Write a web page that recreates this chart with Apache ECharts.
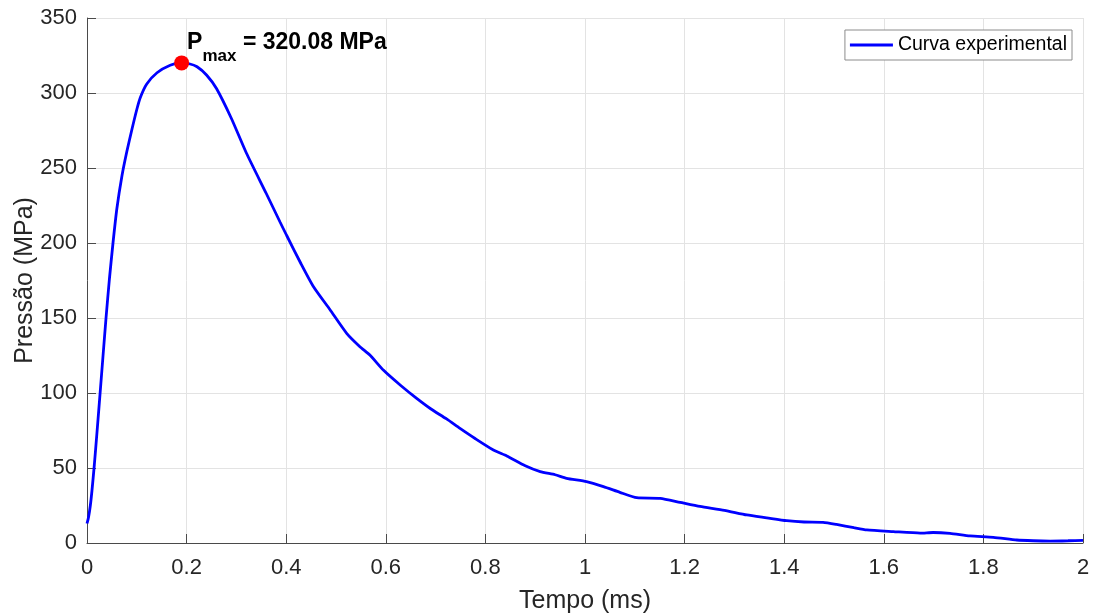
<!DOCTYPE html>
<html>
<head>
<meta charset="utf-8">
<script src="https://cdn.jsdelivr.net/npm/echarts@6/dist/echarts.min.js"></script>
<style>
html,body{margin:0;padding:0;background:#fff;}
#chart{width:1096px;height:613px;}
</style>
</head>
<body>
<div id="chart"></div>
<script>
// ---- data ----
const tempo = [0, 0.003, 0.0067, 0.010, 0.0147, 0.020, 0.0268, 0.032, 0.0382, 0.045, 0.0522, 0.060, 0.0703, 0.080, 0.0904, 0.100, 0.1071, 0.120, 0.1406, 0.167, 0.189, 0.205, 0.221, 0.24, 0.26, 0.29, 0.32, 0.36, 0.3876, 0.401, 0.43, 0.4545, 0.488, 0.5214, 0.548, 0.568, 0.595, 0.63, 0.662, 0.69, 0.722, 0.749, 0.78, 0.816, 0.843, 0.88, 0.91, 0.94, 0.963, 1.003, 1.037, 1.07, 1.104, 1.151, 1.191, 1.231, 1.28, 1.325, 1.365, 1.405, 1.44, 1.478, 1.505, 1.54, 1.566, 1.619, 1.673, 1.699, 1.733, 1.773, 1.82, 1.867, 1.90, 1.934, 1.97, 2.0];
const pressao = [13, 17, 25, 35, 52, 73.5, 102, 124, 150, 176, 200, 223, 245, 261, 276, 289, 297, 306, 313.5, 318.5, 320.08, 319.5, 317.5, 312, 303, 283, 260, 233, 214, 205, 186, 171, 155.5, 139.8, 130.9, 125.3, 115.3, 105, 96.4, 89.5, 82.7, 76.4, 69.5, 62, 58, 51.5, 47.6, 45.5, 43.1, 40.9, 37.6, 33.8, 30.2, 29.8, 27.1, 24.4, 21.8, 18.7, 16.8, 14.9, 14.0, 13.8, 12.4, 10.2, 8.7, 7.6, 6.6, 7.0, 6.4, 4.7, 3.8, 2.0, 1.5, 1.3, 1.5, 1.8];
const picoTempo = 0.19;
const picoPressao = 320.08;
const serieNome = 'Curva experimental';
const xNome = 'Tempo (ms)';
const yNome = 'Pressão (MPa)';
const xTicks = {min: 0, max: 2, interval: 0.2};
const yTicks = {min: 0, max: 350, interval: 50};

const curva = tempo.map((t, i) => [t, pressao[i]]);

const FONT = '"Liberation Sans", Arial, Helvetica, sans-serif';
const AX = '#4a4a4a';
const TXT = '#262626';

const chart = echarts.init(document.getElementById('chart'), null, {renderer: 'canvas'});
chart.setOption({
  animation: false,
  backgroundColor: '#ffffff',
  textStyle: {fontFamily: FONT},
  grid: {left: 87, right: 13, top: 18, bottom: 70, containLabel: false, outerBoundsMode: 'none'},
  legend: {
    data: [serieNome],
    right: 24, top: 30,
    orient: 'horizontal',
    padding: [5, 5],
    icon: 'rect',
    itemWidth: 43, itemHeight: 3,
    backgroundColor: '#ffffff',
    borderColor: '#8c8c8c', borderWidth: 1, borderRadius: 0,
    textStyle: {fontFamily: FONT, fontSize: 19.5, color: '#000'}
  },
  xAxis: {
    type: 'value',
    min: xTicks.min, max: xTicks.max, interval: xTicks.interval,
    name: xNome, nameLocation: 'middle', nameGap: 46, nameMoveOverlap: false,
    nameTextStyle: {fontFamily: FONT, fontSize: 25, color: TXT},
    axisLine: {show: true, onZero: false, lineStyle: {color: AX, width: 1}},
    axisTick: {show: true, inside: true, length: 9, lineStyle: {color: AX}},
    axisLabel: {fontFamily: FONT, fontSize: 22, color: TXT, margin: 14},
    splitLine: {show: true, lineStyle: {color: '#e3e3e3', width: 1}}
  },
  yAxis: {
    type: 'value',
    min: yTicks.min, max: yTicks.max, interval: yTicks.interval,
    name: yNome, nameLocation: 'middle', nameGap: 49, nameMoveOverlap: false,
    nameTextStyle: {fontFamily: FONT, fontSize: 25, color: TXT},
    axisLine: {show: true, lineStyle: {color: AX, width: 1}},
    axisTick: {show: true, inside: true, length: 9, lineStyle: {color: AX}},
    axisLabel: {fontFamily: FONT, fontSize: 22, color: TXT, margin: 10},
    splitLine: {show: true, lineStyle: {color: '#e3e3e3', width: 1}}
  },
  series: [
    {
      name: serieNome,
      type: 'line',
      data: curva,
      symbol: 'none',
      smooth: 0.2,
      lineStyle: {color: '#0000ff', width: 2.8},
      itemStyle: {color: '#0000ff'},
      z: 2
    },
    {
      name: 'Pmax',
      type: 'scatter',
      data: [[picoTempo, picoPressao]],
      symbol: 'circle',
      symbolSize: 15,
      itemStyle: {color: '#ff0000', opacity: 1},
      z: 5,
      label: {
        show: true,
        position: [13, -24],
        formatter: '{p|P}{s|max}{p| = ' + picoPressao.toFixed(2) + ' MPa}',
        rich: {
          p: {fontFamily: FONT, fontSize: 23, fontWeight: 'bold', color: '#000', lineHeight: 24, verticalAlign: 'top'},
          s: {fontFamily: FONT, fontSize: 17, fontWeight: 'bold', color: '#000', lineHeight: 18, padding: [16, 0, 0, 0], verticalAlign: 'top'}
        }
      }
    }
  ]
});
</script>
</body>
</html>
